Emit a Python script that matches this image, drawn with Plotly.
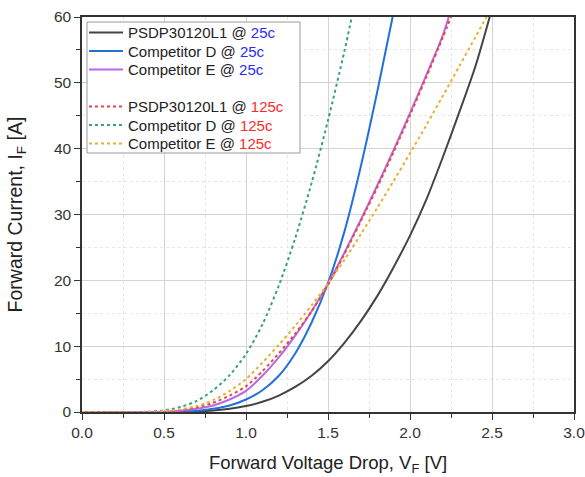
import plotly.graph_objects as go

# ---- data ----
black_v = [0.0, 0.5, 0.6, 0.7, 0.8, 0.9, 1.0, 1.1, 1.2, 1.3, 1.4, 1.5, 1.6, 1.7, 1.8, 1.9, 2.0, 2.1, 2.2, 2.3, 2.4, 2.486]
black_i = [0.0, 0.0, 0.02, 0.08, 0.22, 0.5, 0.9, 1.55, 2.5, 3.8, 5.5, 7.7, 10.5, 13.8, 17.6, 22.0, 26.8, 32.3, 38.7, 45.5, 52.6, 60.0]

blue_v = [0.0, 0.5, 0.6, 0.7, 0.8, 0.9, 1.0, 1.1, 1.2, 1.3, 1.4, 1.5, 1.6, 1.7, 1.8, 1.894]
blue_i = [0.0, 0.0, 0.05, 0.18, 0.5, 1.0, 1.9, 3.3, 5.5, 8.9, 13.6, 19.6, 27.4, 37.3, 48.6, 60.0]

purple_v = [0.0, 0.4, 0.5, 0.6, 0.7, 0.8, 0.9, 1.0, 1.1, 1.2, 1.3, 1.4, 1.5, 1.6, 1.7, 1.8, 1.9, 2.0, 2.1, 2.2, 2.236]
purple_i = [0.0, 0.0, 0.05, 0.2, 0.5, 1.0, 1.9, 3.2, 5.5, 8.3, 11.6, 15.3, 19.5, 24.2, 29.2, 34.4, 39.8, 45.4, 51.2, 57.2, 60.0]

red_v = [0.0, 0.4, 0.5, 0.6, 0.7, 0.8, 0.9, 1.0, 1.1, 1.2, 1.3, 1.4, 1.5, 1.6, 1.7, 1.8, 1.9, 2.0, 2.1, 2.2, 2.25]
red_i = [0.0, 0.0, 0.1, 0.3, 0.7, 1.4, 2.5, 3.9, 6.2, 8.9, 11.9, 15.3, 19.3, 24.0, 29.0, 34.1, 39.5, 45.1, 50.9, 56.9, 60.0]

green_v = [0.0, 0.35, 0.4, 0.5, 0.6, 0.7, 0.8, 0.9, 1.0, 1.1, 1.2, 1.3, 1.4, 1.5, 1.6, 1.645]
green_i = [0.0, 0.0, 0.05, 0.25, 0.75, 1.7, 3.3, 5.6, 8.8, 13.3, 19.2, 26.4, 34.8, 44.3, 54.8, 60.0]

orange_v = [0.0, 0.4, 0.5, 0.6, 0.7, 0.8, 0.9, 1.0, 1.1, 1.2, 1.3, 1.4, 1.5, 1.6, 1.7, 1.8, 1.9, 2.0, 2.1, 2.2, 2.3, 2.4, 2.466]
orange_i = [0.0, 0.0, 0.15, 0.4, 0.9, 1.8, 3.2, 5.0, 7.5, 10.2, 13.1, 16.2, 19.5, 23.1, 27.0, 31.0, 35.1, 39.3, 43.6, 48.0, 52.5, 57.0, 60.0]

names_25 = ["PSDP30120L1", "Competitor D", "Competitor E"]
names_125 = ["PSDP30120L1", "Competitor D", "Competitor E"]
x_ticks = [0.0, 0.5, 1.0, 1.5, 2.0, 2.5, 3.0]
y_ticks = [0, 10, 20, 30, 40, 50, 60]

BLUE_TXT = "#2b2bff"
RED_TXT = "#ff2b2b"
FONT = "Liberation Sans, Arial"

fig = go.Figure()

series = []
solid = [(black_v, black_i, "#444444"), (blue_v, blue_i, "#2270d8"), (purple_v, purple_i, "#b968e6")]
for (vx, iy, col), nm in zip(solid, names_25):
    label = f"{nm} @ <span style='color:{BLUE_TXT}'>25c</span>"
    series.append((label, col, "solid"))
    fig.add_trace(go.Scatter(
        x=vx, y=iy, mode="lines", name=f"{nm} @ 25c", showlegend=False,
        line=dict(color=col, width=2, shape="spline", smoothing=0.8)))

dotted = [(red_v, red_i, "#e8463e"), (green_v, green_i, "#3a9e82"), (orange_v, orange_i, "#e6b035")]
for (vx, iy, col), nm in zip(dotted, names_125):
    label = f"{nm} @ <span style='color:{RED_TXT}'>125c</span>"
    series.append((label, col, "dot"))
    fig.add_trace(go.Scatter(
        x=vx, y=iy, mode="lines", name=f"{nm} @ 125c", showlegend=False,
        line=dict(color=col, width=2, dash="dot", shape="spline", smoothing=0.8)))

# ---- legend box (drawn in plot-area paper coordinates) ----
PL, PT, PW, PH = 82, 17, 492, 395   # plot area in reference pixels
def px(x): return (x - PL) / PW
def py(y): return (PT + PH - y) / PH

fig.add_shape(type="rect", xref="paper", yref="paper",
              x0=px(87), x1=px(300), y0=py(153), y1=py(22),
              fillcolor="white", line=dict(color="#9a9a9a", width=1), layer="above")
row_y = [32.5, 51, 69.5, 106.5, 125, 143.5]
for (label, col, dash), ry in zip(series, row_y):
    fig.add_shape(type="line", xref="paper", yref="paper",
                  x0=px(89), x1=px(123), y0=py(ry), y1=py(ry),
                  line=dict(color=col, width=2, dash=dash), layer="above")
    fig.add_annotation(xref="paper", yref="paper", x=px(126), y=py(ry),
                       xanchor="left", yanchor="middle", showarrow=False,
                       text=label, font=dict(family=FONT, size=15, color="#222222"))

axis_common = dict(
    showline=True, linecolor="#333333", linewidth=1.5, mirror=True,
    ticks="outside", ticklen=6, tickwidth=1, tickcolor="#333333",
    showgrid=True, gridcolor="#d4d4d4", gridwidth=1,
    tickfont=dict(family=FONT, size=15.5, color="#333333"),
    zeroline=False, automargin=False, ticklabeloverflow="allow",
)

fig.update_xaxes(
    range=[0, 3.0], tickvals=x_ticks, ticktext=[f"{v:.1f}" for v in x_ticks],
    minor=dict(dtick=0.25, ticks="outside", ticklen=4, tickcolor="#333333",
               showgrid=True, gridcolor="#e6e6e6", griddash="dot"),
    title=dict(text="Forward Voltage Drop, V<sub>F</sub> [V]",
               font=dict(family=FONT, size=18.5, color="#222222"), standoff=16),
    **axis_common)
fig.update_yaxes(
    range=[0, 60], tickvals=y_ticks,
    minor=dict(dtick=5, ticks="outside", ticklen=4, tickcolor="#333333",
               showgrid=True, gridcolor="#e6e6e6", griddash="dot"),
    title=dict(text="Forward Current, I<sub>F</sub> [A]",
               font=dict(family=FONT, size=19.5, color="#222222"), standoff=26),
    **axis_common)

fig.update_layout(
    width=585, height=477,
    margin=dict(l=82, r=11, t=17, b=65),
    paper_bgcolor="white", plot_bgcolor="white",
    font=dict(family=FONT, color="#222222"),
    showlegend=False,
)

# remove the page's default 8px body margin so the figure fills the window
fig.write_html("out.html", config={"displayModeBar": False},
               post_script="document.body.style.margin='0';")
